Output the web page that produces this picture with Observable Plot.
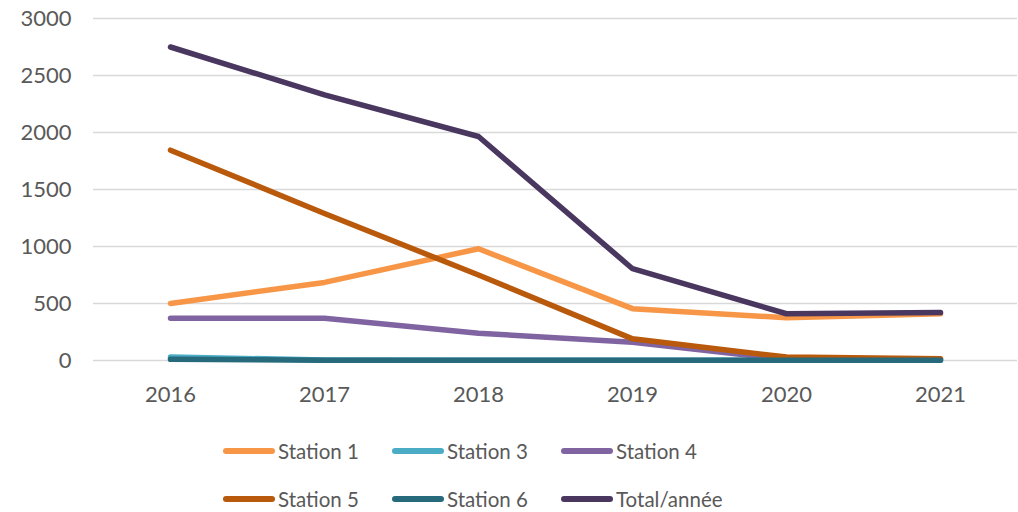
<!DOCTYPE html>
<html>
<head>
<meta charset="utf-8">
<script src="https://cdn.jsdelivr.net/npm/d3@7"></script>
<script src="https://cdn.jsdelivr.net/npm/@observablehq/plot@0.6"></script>
<style>
  body { margin: 0; background: #fff; font-family: Lato, "Open Sans", sans-serif; }
  #chart svg { display: block; }
  #legend { display: grid; grid-template-columns: 169px 169px 220px; row-gap: 0; margin-left: 223px; margin-top: 7px; }
  .item { display: flex; align-items: center; height: 48px; font-size: 20.5px; color: #595959; }
  .swatch { width: 52px; height: 6px; border-radius: 3px; margin-right: 3px; }
</style>
</head>
<body>
<div id="chart"></div>
<div id="legend"></div>
<script>
const years = ["2016", "2017", "2018", "2019", "2020", "2021"];
const seriesNames = ["Station 1", "Station 3", "Station 4", "Station 5", "Station 6", "Total/année"];
const seriesColors = ["#F79646", "#4BACC6", "#8064A2", "#B9590B", "#276A7C", "#4A3760"];
const station1 = [500, 685, 980, 455, 375, 410];
const station3 = [30, 5, 3, 3, 3, 3];
const station4 = [370, 370, 240, 160, 10, 10];
const station5 = [1845, 1290, 750, 190, 30, 15];
const station6 = [10, 2, 2, 2, 2, 2];
const total = [2750, 2330, 1965, 805, 410, 420];
const yTicks = [0, 500, 1000, 1500, 2000, 2500, 3000];

const allValues = [station1, station3, station4, station5, station6, total];
const rows = [];
seriesNames.forEach((name, i) => {
  years.forEach((yr, j) => rows.push({series: name, year: yr, value: allValues[i][j]}));
});

const chart = Plot.plot({
  width: 1018,
  height: 420,
  marginTop: 18,
  marginBottom: 60,
  marginLeft: 93,
  marginRight: 1,
  style: {fontFamily: "Lato, 'Open Sans', sans-serif", fontSize: "22px", color: "#595959", background: "#fff"},
  x: {type: "point", domain: years, padding: 0.5, label: null, tickSize: 0, tickPadding: 26},
  y: {domain: [0, 3000], ticks: yTicks, tickFormat: d => String(d), label: null, tickSize: 0, tickPadding: 22},
  color: {domain: seriesNames, range: seriesColors},
  marks: [
    Plot.ruleY(yTicks, {stroke: "#d9d9d9", strokeWidth: 1.3}),
    Plot.line(rows, {x: "year", y: "value", z: "series", stroke: "series", strokeWidth: 5.5, strokeLinejoin: "round", strokeLinecap: "round"})
  ]
});
document.getElementById("chart").appendChild(chart);

const legend = document.getElementById("legend");
seriesNames.forEach((name, i) => {
  const item = document.createElement("div");
  item.className = "item";
  const sw = document.createElement("span");
  sw.className = "swatch";
  sw.style.background = seriesColors[i];
  const label = document.createElement("span");
  label.textContent = name;
  item.appendChild(sw);
  item.appendChild(label);
  legend.appendChild(item);
});
</script>
</body>
</html>
